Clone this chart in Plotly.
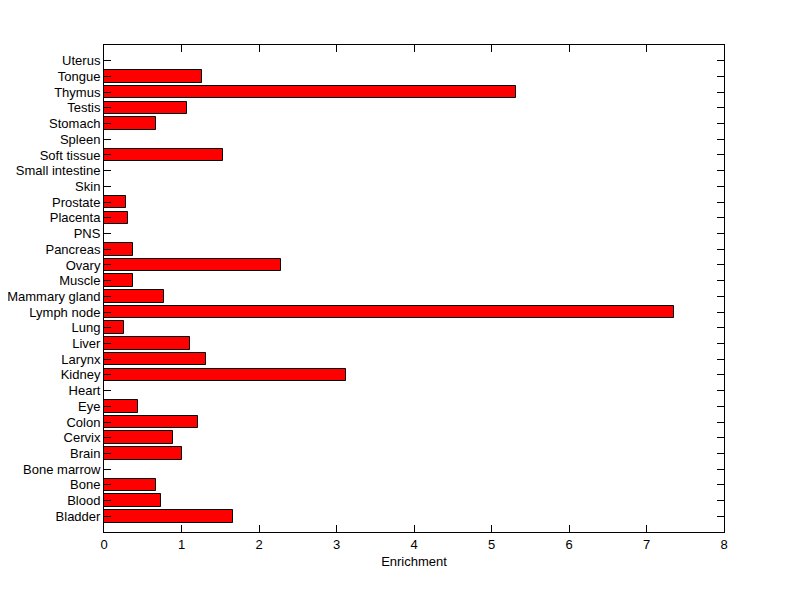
import plotly.graph_objects as go

tissues = ["Bladder", "Blood", "Bone", "Bone marrow", "Brain", "Cervix", "Colon", "Eye",
           "Heart", "Kidney", "Larynx", "Liver", "Lung", "Lymph node", "Mammary gland",
           "Muscle", "Ovary", "Pancreas", "PNS", "Placenta", "Prostate", "Skin",
           "Small intestine", "Soft tissue", "Spleen", "Stomach", "Testis", "Thymus",
           "Tongue", "Uterus"]
enrichment = [1.67, 0.73, 0.667, 0.0, 1.0, 0.886, 1.21, 0.434,
              0.0, 3.12, 1.31, 1.105, 0.254, 7.36, 0.78,
              0.37, 2.28, 0.37, 0.0, 0.306, 0.28, 0.0,
              0.0, 1.53, 0.0, 0.667, 1.07, 5.31,
              1.26, 0.0]
x_ticks = [0, 1, 2, 3, 4, 5, 6, 7, 8]

positions = list(range(len(tissues)))

fig = go.Figure(go.Bar(
    y=positions, x=enrichment, orientation="h", width=0.8,
    marker=dict(color="#ff0000", line=dict(color="black", width=1)),
))

font = dict(family="Liberation Sans, Arial, sans-serif", size=13, color="black")
fig.update_layout(
    width=792, height=591,
    margin=dict(l=96, r=76, t=37, b=67, autoexpand=False),
    paper_bgcolor="white", plot_bgcolor="white",
    font=font, showlegend=False, bargap=0,
    xaxis=dict(range=[0, 8], tickvals=x_ticks, ticks="inside", ticklen=7,
               tickcolor="black", showline=True, linecolor="black", linewidth=1,
               mirror="ticks", showgrid=False, zeroline=False, automargin=False,
               title=dict(text="Enrichment", font=font, standoff=6)),
    yaxis=dict(range=[-1, len(tissues)], tickvals=positions, ticktext=tissues,
               ticks="inside", ticklen=7, tickcolor="black", showline=True,
               linecolor="black", linewidth=1, mirror="ticks", showgrid=False,
               zeroline=False, automargin=False),
)

fig.write_html("out.html")
